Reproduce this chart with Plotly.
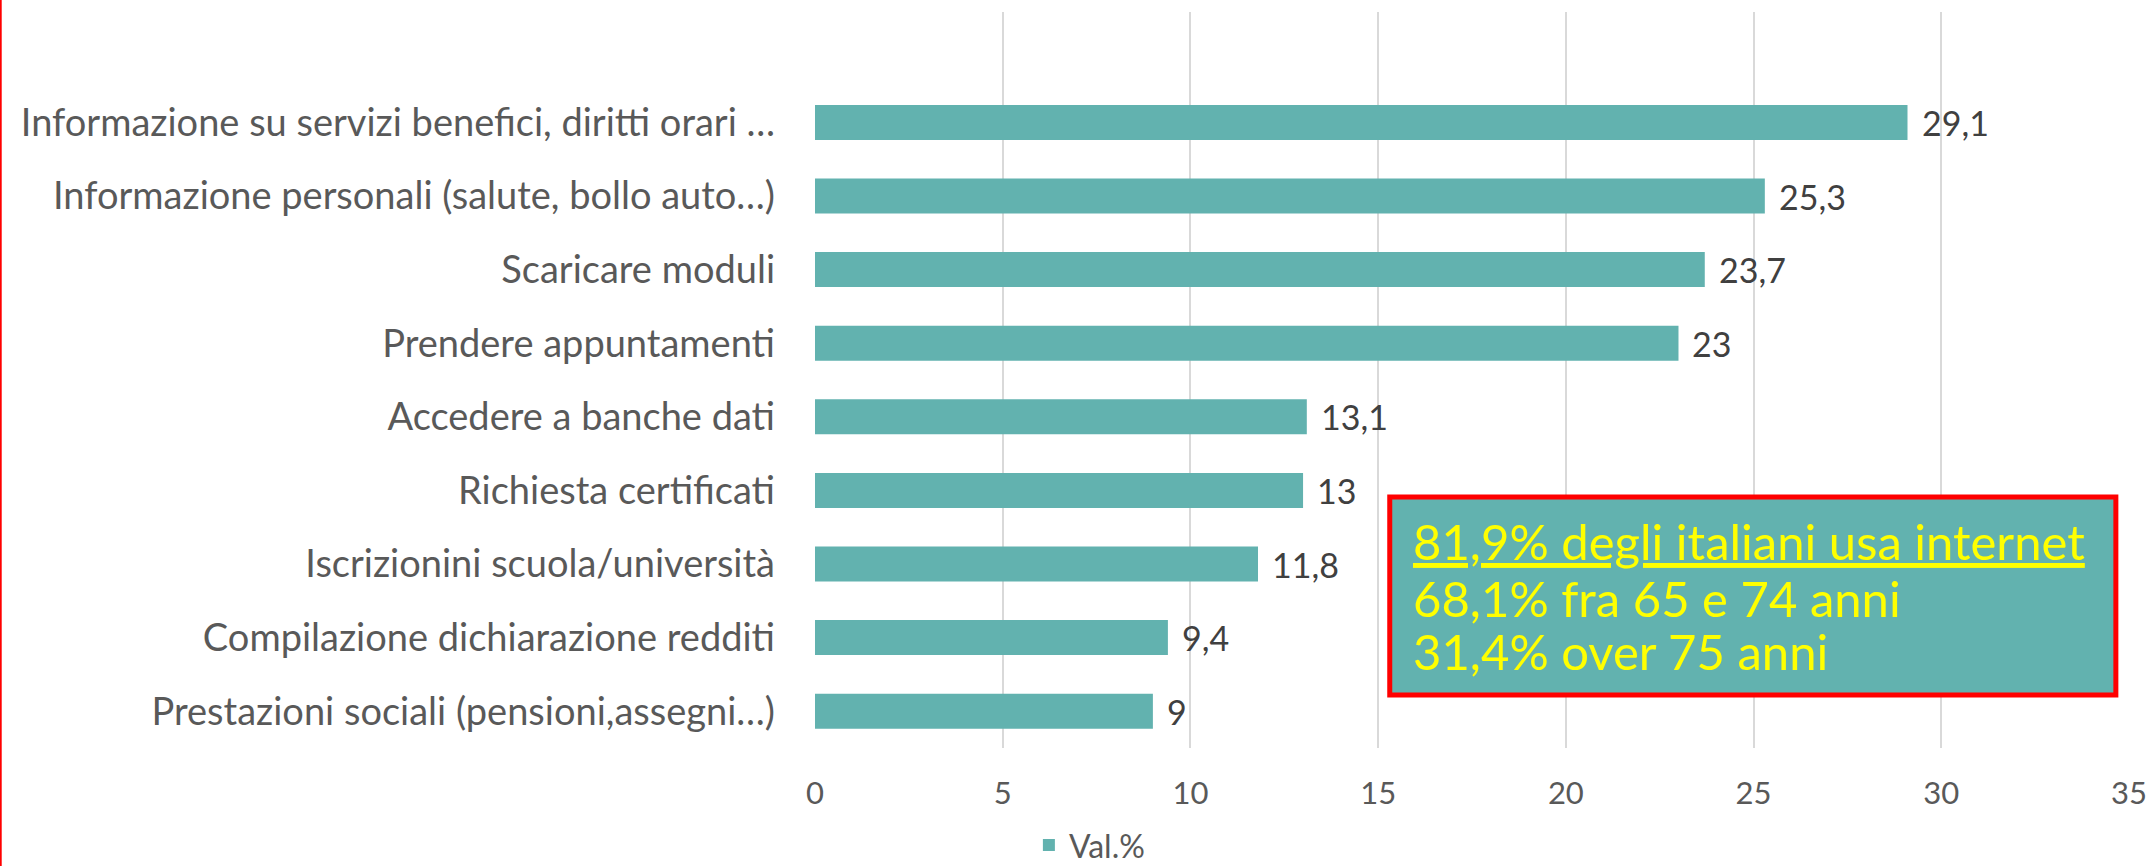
import plotly.graph_objects as go

categories = [
    "Informazione su servizi benefici, diritti orari …",
    "Informazione personali (salute, bollo auto…)",
    "Scaricare moduli",
    "Prendere appuntamenti",
    "Accedere a banche dati",
    "Richiesta certificati",
    "Iscrizionini scuola/università",
    "Compilazione dichiarazione redditi",
    "Prestazioni sociali (pensioni,assegni…)",
]
values = [29.1, 25.3, 23.7, 23, 13.1, 13, 11.8, 9.4, 9]
series_name = "Val.%"
x_ticks = [0, 5, 10, 15, 20, 25, 30, 35]
box_lines = [
    "81,9% degli italiani usa internet",
    "68,1% fra 65 e 74 anni",
    "31,4% over 75 anni",
]

FONT = "Lato, 'Noto Sans', 'Open Sans', sans-serif"
GRAY = "#595959"
BAR = "#62B2AF"

n = len(categories)
ypos = [n - 1 - i for i in range(n)]  # first category at top

def fmt(v):
    return f"{v:g}".replace(".", ",")

fig = go.Figure()
fig.add_trace(go.Bar(
    x=values, y=ypos, orientation="h", name=series_name,
    marker=dict(color=BAR, line=dict(width=0)),
    width=0.475, showlegend=True, hoverinfo="x",
))

annotations = []
for v, y in zip(values, ypos):
    annotations.append(dict(
        x=v, y=y, xref="x", yref="y", text=fmt(v), showarrow=False,
        xanchor="left", yanchor="middle", xshift=12,
        font=dict(family=FONT, size=34, color="#404040"),
    ))

box_y = [0.281, 0.204, 0.132]
for i, (line, yy) in enumerate(zip(box_lines, box_y)):
    annotations.append(dict(
        x=0.4535, y=yy, xref="paper", yref="paper",
        text=("<u>" + line + "</u>") if i == 0 else line,
        showarrow=False, xanchor="left", yanchor="middle", align="left",
        font=dict(family=FONT, size=49, color="#FFFF00"),
    ))

fig.update_layout(
    width=2148, height=866,
    margin=dict(l=815, r=19, t=12, b=118, autoexpand=False),
    paper_bgcolor="white", plot_bgcolor="white",
    font=dict(family=FONT, color=GRAY),
    xaxis=dict(
        range=[0, 35], tickvals=x_ticks, ticktext=[str(t) for t in x_ticks],
        showgrid=True, gridcolor="#D9D9D9", gridwidth=1.5, zeroline=False,
        showline=False, ticks="", tickfont=dict(family=FONT, size=31, color=GRAY),
        ticklabelstandoff=24, fixedrange=True, automargin=False,
    ),
    yaxis=dict(
        range=[-0.5, n + 0.5], tickvals=ypos, ticktext=categories,
        showgrid=False, zeroline=False, showline=False, ticks="",
        tickfont=dict(family=FONT, size=38, color=GRAY),
        ticklabelstandoff=39, fixedrange=True, automargin=False,
    ),
    legend=dict(
        xref="container", yref="container",
        x=0.479, y=0.024, xanchor="left", yanchor="middle",
        orientation="h", font=dict(family=FONT, size=32, color=GRAY),
        bgcolor="rgba(0,0,0,0)", itemwidth=30,
    ),
    shapes=[
        dict(type="rect", xref="paper", yref="paper",
             x0=0.4374, x1=0.990, y0=0.072, y1=0.341,
             fillcolor=BAR, line=dict(color="#FF0000", width=5), layer="above"),
        dict(type="line", xref="paper", yref="paper",
             x0=-0.6197, x1=-0.6197, y0=-0.161, y1=1.017,
             line=dict(color="#FF0000", width=2)),
    ],
    annotations=annotations,
)

fig.write_html(
    "out.html",
    config={"displayModeBar": False},
    post_script="document.body.style.margin='0px';document.body.style.overflow='hidden';",
)
